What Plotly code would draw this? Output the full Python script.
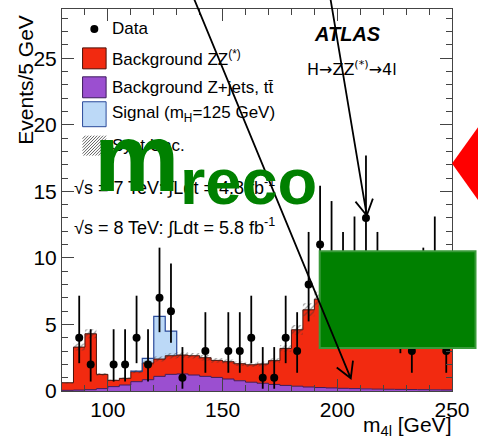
import math
import numpy as np
import plotly.graph_objects as go

# ---------------- data ----------------
bin_low_edges = list(range(80, 250, 5))          # 34 bins of 5 GeV, 80-250 GeV
x_max = 250

data_counts = [0, 4, 2, 0, 2, 2, 4, 2, 7, 6, 1, 0, 3, 0, 3, 3, 4, 1, 1, 4,
               3, 8, 11, 10, 8, 9, 13, 8, 6, 5, 3, 7, 9, 3]
data_err_up = [0, 3.16, 2.64, 0, 2.64, 2.64, 3.16, 2.64, 3.77, 3.58, 2.30, 0, 2.92, 0,
               2.92, 2.92, 3.16, 2.30, 2.30, 3.16, 2.92, 3.95, 4.42, 4.27, 3.95, 4.11,
               4.70, 3.95, 3.58, 3.38, 2.92, 3.77, 4.11, 2.92]
data_err_dn = [0, 1.91, 1.29, 0, 1.29, 1.29, 1.91, 1.29, 2.58, 2.38, 0.83, 0, 1.63, 0,
               1.63, 1.63, 1.91, 0.83, 0.83, 1.91, 1.63, 2.77, 3.27, 3.11, 2.77, 2.94,
               3.56, 2.77, 2.38, 2.16, 1.63, 2.58, 2.94, 1.63]

bkg_zjets = [0.05, 0.07, 0.10, 0.18, 0.33, 0.45, 0.70, 0.85, 1.10, 1.25, 1.28, 1.20,
             1.10, 1.02, 0.90, 0.77, 0.66, 0.58, 0.49, 0.42, 0.36, 0.30, 0.26, 0.23,
             0.20, 0.18, 0.16, 0.14, 0.13, 0.12, 0.11, 0.10, 0.09, 0.08]
bkg_zz = [0.57, 3.23, 4.20, 1.07, 0.47, 0.50, 0.75, 1.25, 1.30, 1.40, 1.42, 1.45,
          1.40, 1.28, 1.30, 1.28, 1.31, 1.45, 1.79, 2.78, 4.24, 5.80, 6.64, 6.77,
          6.70, 6.52, 6.34, 6.16, 5.97, 5.78, 5.59, 5.40, 5.21, 5.02]
signal_h125 = [0, 0, 0, 0, 0, 0, 0.05, 0.35, 3.20, 1.85, 0, 0, 0, 0, 0, 0, 0, 0, 0, 0,
               0, 0, 0, 0, 0, 0, 0, 0, 0, 0, 0, 0, 0, 0]
syst_frac = 0.08

x_ticks = [100, 150, 200, 250]
y_ticks = [0, 5, 10, 15, 20, 25]
y_max = 28.7

# ---------------- styling ----------------
FONT = "Liberation Sans, Arial, Helvetica, sans-serif"
RED, RED_LINE = "#f22a10", "#4a1008"
PURPLE, PURPLE_LINE = "#9b4fd0", "#3d1a5c"
BLUE, BLUE_LINE = "#bcd9f7", "#2a4a9a"
AX = "#444444"

W, H = 478, 441
PL, PR, PT, PB = 62, 460, 8, 391   # plot area in pixels


def px(x):
    return (x - PL) / (PR - PL)


def py(y):
    return (PB - y) / (PB - PT)


xs = bin_low_edges + [x_max]


def step(v):
    v = list(v)
    return v + [v[-1]]


cum_zj = np.array(bkg_zjets)
cum_bkg = cum_zj + np.array(bkg_zz)
cum_sig = cum_bkg + np.array(signal_h125)

fig = go.Figure()

fig.add_trace(go.Scatter(x=xs, y=step(cum_zj), mode="lines",
                         line=dict(shape="hv", color=PURPLE_LINE, width=1),
                         fill="tozeroy", fillcolor=PURPLE, hoverinfo="skip",
                         showlegend=False))
fig.add_trace(go.Scatter(x=xs, y=step(cum_bkg), mode="lines",
                         line=dict(shape="hv", color=RED_LINE, width=1),
                         fill="tonexty", fillcolor=RED, hoverinfo="skip",
                         showlegend=False))
fig.add_trace(go.Scatter(x=xs, y=step(cum_sig), mode="lines",
                         line=dict(shape="hv", color=BLUE, width=0),
                         fill="tonexty", fillcolor=BLUE, hoverinfo="skip",
                         showlegend=False))

# signal outline (only where signal is present)
sig_idx = [i for i, s in enumerate(signal_h125) if s > 0]
i0, i1 = sig_idx[0], sig_idx[-1]
sx = [bin_low_edges[i0]] + [bin_low_edges[i] for i in range(i0, i1 + 1)] + [bin_low_edges[i1] + 5]
sy = [cum_bkg[i0]] + [cum_sig[i] for i in range(i0, i1 + 1)] + [cum_bkg[i1 + 1]]
fig.add_trace(go.Scatter(x=sx, y=sy, mode="lines",
                         line=dict(shape="hv", color=BLUE_LINE, width=1.2),
                         hoverinfo="skip", showlegend=False))

# systematic uncertainty hatched band
fig.add_trace(go.Scatter(x=xs, y=step(cum_bkg * (1 - syst_frac)), mode="lines",
                         line=dict(shape="hv", width=0, color="rgba(0,0,0,0)"),
                         hoverinfo="skip", showlegend=False))
fig.add_trace(go.Scatter(x=xs, y=step(cum_bkg * (1 + syst_frac)), mode="lines",
                         line=dict(shape="hv", width=0, color="rgba(0,0,0,0)"),
                         fill="tonexty", fillcolor="rgba(0,0,0,0)",
                         fillpattern=dict(shape="/", fgcolor="#333333",
                                          bgcolor="rgba(0,0,0,0)", size=4, solidity=0.3),
                         hoverinfo="skip", showlegend=False))

# data points
cx = [e + 2.5 for e, n in zip(bin_low_edges, data_counts) if n > 0]
cy = [n for n in data_counts if n > 0]
eu = [u for u, n in zip(data_err_up, data_counts) if n > 0]
ed = [d for d, n in zip(data_err_dn, data_counts) if n > 0]
fig.add_trace(go.Scatter(x=cx, y=cy, mode="markers",
                         marker=dict(color="black", size=8),
                         error_y=dict(type="data", symmetric=False, array=eu, arrayminus=ed,
                                      color="black", thickness=1.8, width=0),
                         hoverinfo="skip", showlegend=False))

axis_common = dict(showline=True, linecolor=AX, linewidth=1, mirror="allticks",
                   ticks="inside", ticklen=12, tickwidth=1, tickcolor=AX,
                   showgrid=False, zeroline=False,
                   tickfont=dict(family=FONT, size=21, color="black"))

fig.update_layout(
    width=W, height=H,
    margin=dict(l=PL, r=W - PR, t=PT, b=H - PB),
    paper_bgcolor="white", plot_bgcolor="white",
    showlegend=False,
    xaxis=dict(range=[80, x_max], tickvals=x_ticks,
               minor=dict(dtick=10, tick0=0, ticks="inside", ticklen=6, tickcolor=AX),
               **axis_common),
    yaxis=dict(range=[0, y_max], tickvals=y_ticks,
               minor=dict(dtick=1, tick0=0, ticks="inside", ticklen=6, tickcolor=AX),
               **axis_common),
)

shapes = []
ann = []

# axis titles
ann.append(dict(text="m<sub>4l</sub> [GeV]", x=px(461), y=py(426), xref="paper", yref="paper",
                xanchor="right", yanchor="middle", showarrow=False,
                font=dict(family=FONT, size=21, color="black")))
ann.append(dict(text="Events/5 GeV", x=px(25), y=py(12), xref="paper", yref="paper",
                xanchor="center", yanchor="top", textangle=-90, showarrow=False,
                font=dict(family=FONT, size=21, color="black")))

# legend
LEG_FONT = dict(family=FONT, size=17, color="black")
shapes.append(dict(type="circle", xref="paper", yref="paper", xsizemode="pixel", ysizemode="pixel",
                   xanchor=px(95), yanchor=py(28), x0=-4, x1=4, y0=-4, y1=4,
                   fillcolor="black", line=dict(width=0)))
leg_boxes = [(47, 68, RED, RED_LINE), (76, 97, PURPLE, PURPLE_LINE), (101, 126, BLUE, BLUE_LINE)]
for y0, y1, fc, lc in leg_boxes:
    shapes.append(dict(type="rect", xref="paper", yref="paper", x0=px(83), x1=px(107),
                       y0=py(y1), y1=py(y0), fillcolor=fc, line=dict(color=lc, width=1)))
# hatched legend box
hx0, hx1, hy0, hy1 = 83, 107, 135, 155
segs = []
for k in range(-20, 24, 3):
    xa, ya = hx0 + k, hy1
    xb, yb = hx0 + k + (hy1 - hy0), hy0
    if xa < hx0:
        ya = hy1 - (hx0 - xa); xa = hx0
    if xb > hx1:
        yb = hy0 + (xb - hx1); xb = hx1
    if xa <= hx1 and xb >= hx0 and ya >= hy0 and yb <= hy1:
        segs.append(f"M{px(xa):.5f},{py(ya):.5f}L{px(xb):.5f},{py(yb):.5f}")
shapes.append(dict(type="path", xref="paper", yref="paper", path="".join(segs),
                   line=dict(color="#666666", width=1)))

leg_texts = [("Data", 28), ("Background ZZ<sup>(*)</sup>", 57),
             ("Background Z+jets, tt\u0304", 87), ("Signal (m<sub>H</sub>=125 GeV)", 113),
             ("Syst.Unc.", 145)]
for t, yy in leg_texts:
    ann.append(dict(text=t, x=px(111), y=py(yy), xref="paper", yref="paper",
                    xanchor="left", yanchor="middle", showarrow=False, font=LEG_FONT))

ann.append(dict(text="<b><i>ATLAS</i></b>", x=px(353), y=py(33), xref="paper", yref="paper",
                xanchor="center", yanchor="middle", showarrow=False,
                font=dict(family=FONT, size=20, color="black")))
ann.append(dict(text="H\u2192ZZ<sup>(*)</sup>\u21924l", x=px(358), y=py(68), xref="paper", yref="paper",
                xanchor="center", yanchor="middle", showarrow=False,
                font=dict(family="DejaVu Sans, " + FONT, size=16, color="black")))
ann.append(dict(text="\u221as = 7 TeV: \u222bLdt = 4.8 fb<sup>-1</sup>", x=px(72), y=py(186),
                xref="paper", yref="paper", xanchor="left", yanchor="middle", showarrow=False,
                font=dict(family=FONT, size=18, color="black")))
ann.append(dict(text="\u221as = 8 TeV: \u222bLdt = 5.8 fb<sup>-1</sup>", x=px(72), y=py(226),
                xref="paper", yref="paper", xanchor="left", yanchor="middle", showarrow=False,
                font=dict(family=FONT, size=18, color="black")))

# overlays: green m_reco text
GREEN = "#008000"
ann.append(dict(text="<b>m</b>", x=px(93), y=py(157), xref="paper", yref="paper",
                xanchor="left", yanchor="middle", showarrow=False,
                font=dict(family=FONT, size=96, color=GREEN)))
ann.append(dict(text="<b>reco</b>", x=px(180), y=py(181), xref="paper", yref="paper",
                xanchor="left", yanchor="middle", showarrow=False,
                font=dict(family=FONT, size=65, color=GREEN)))

# green rectangle
shapes.append(dict(type="rect", xref="paper", yref="paper", x0=px(325), x1=px(484),
                   y0=py(348), y1=py(251), fillcolor=GREEN, line=dict(color="#3a9a3a", width=2)))

# red diamond (partly outside the picture)
dpts = [(460, 163), (500, 108), (540, 163), (500, 218)]
shapes.append(dict(type="path", xref="paper", yref="paper",
                   path="M" + "L".join(f"{px(a):.5f},{py(b):.5f}" for a, b in dpts) + "Z",
                   fillcolor="#ff0000", line=dict(width=0)))


def arrow_path(x0, y0, x1, y1, length=18, ang=30):
    dx, dy = x0 - x1, y0 - y1
    n = math.hypot(dx, dy)
    ux, uy = dx / n, dy / n
    arms = []
    for s in (1, -1):
        a = math.radians(s * ang)
        rx = ux * math.cos(a) - uy * math.sin(a)
        ry = ux * math.sin(a) + uy * math.cos(a)
        arms.append((x1 + length * rx, y1 + length * ry))
    p = f"M{px(x0):.5f},{py(y0):.5f}L{px(x1):.5f},{py(y1):.5f}"
    p += f"M{px(arms[0][0]):.5f},{py(arms[0][1]):.5f}L{px(x1):.5f},{py(y1):.5f}L{px(arms[1][0]):.5f},{py(arms[1][1]):.5f}"
    return p


for (a0, b0, a1, b1) in [(196, -4, 356.7, 378.3), (336, -2, 373, 215)]:
    shapes.append(dict(type="path", xref="paper", yref="paper", path=arrow_path(a0, b0, a1, b1),
                       line=dict(color="black", width=1.8)))

fig.update_layout(shapes=shapes, annotations=ann)
fig.write_html("out.html", config={"displayModeBar": False},
               post_script="document.body.style.margin='0';document.body.style.overflow='hidden';")
